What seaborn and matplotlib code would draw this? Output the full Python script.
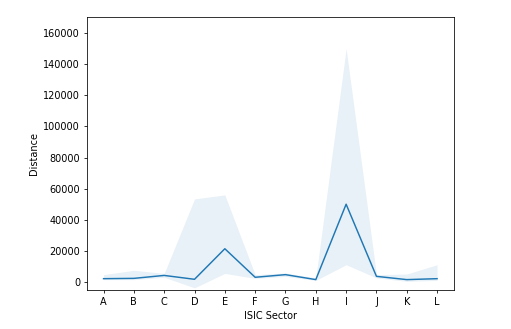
import matplotlib
matplotlib.use("Agg")
import matplotlib.pyplot as plt
import seaborn as sns
import pandas as pd

sectors = ['A', 'B', 'C', 'D', 'E', 'F', 'G', 'H', 'I', 'J', 'K', 'L']
mean_dist = [1900, 2100, 4000, 1500, 21200, 2800, 4500, 1300, 49900, 3400, 1300, 1900]
ci_low = [1300, 1300, 2800, -4000, 5300, 2100, 3400, 800, 10900, 2400, 200, 800]
ci_high = [4500, 7300, 5300, 53300, 55900, 4500, 5600, 2400, 150200, 4500, 4900, 10900]

df = pd.DataFrame({'ISIC Sector': sectors, 'Distance': mean_dist})

# figure drawn at 70 dpi so text/ticks come out at the reference's smaller scale
fig, ax = plt.subplots(figsize=(7.3, 4.7), dpi=70)
fig.subplots_adjust(left=0.170, right=0.888, top=0.948, bottom=0.119)

sns.lineplot(data=df, x='ISIC Sector', y='Distance', errorbar=None, sort=False, ax=ax)
ax.fill_between(range(len(sectors)), ci_low, ci_high, color=ax.lines[0].get_color(),
                alpha=0.1, linewidth=0)

ax.set_ylim(-5300, 170500)
ax.set_yticks(range(0, 160001, 20000))

plt.savefig('out.png', dpi=70)
